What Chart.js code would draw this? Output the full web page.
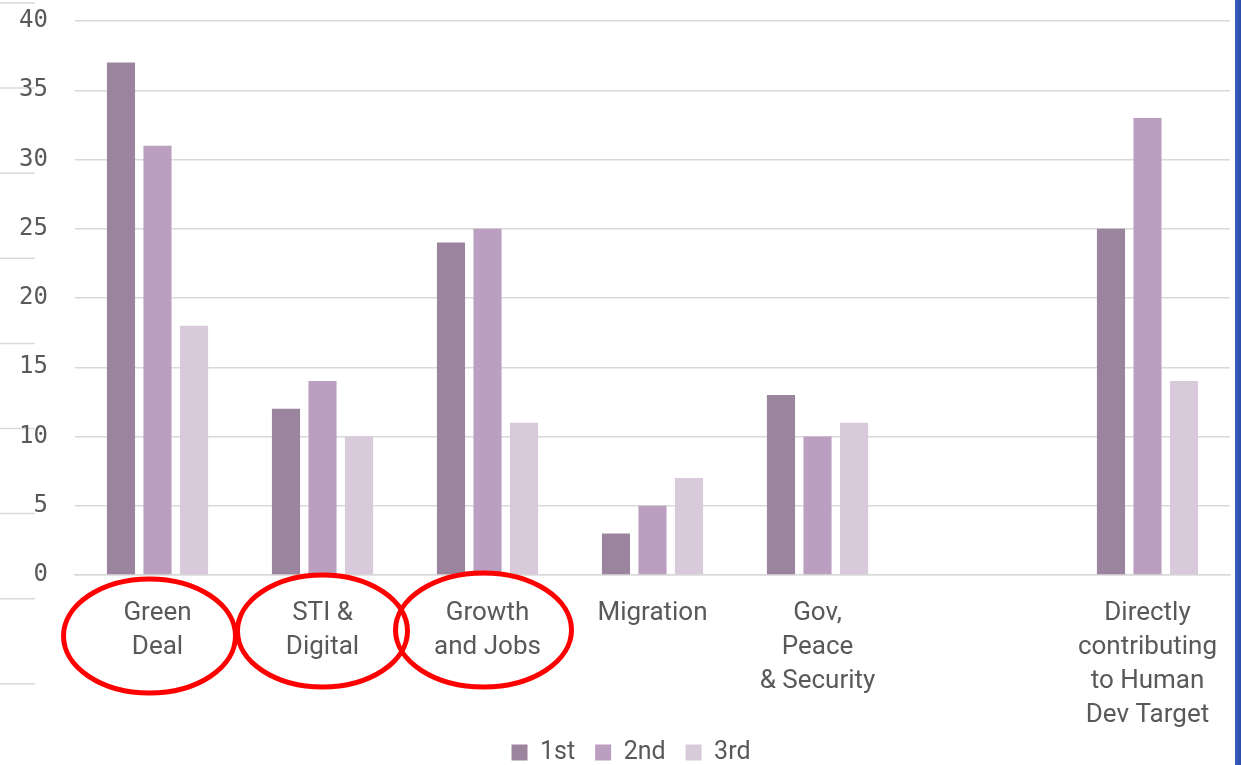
<!DOCTYPE html>
<html>
<head>
<meta charset="utf-8">
<script src="https://cdn.jsdelivr.net/npm/chart.js@4"></script>
<style>
html,body{margin:0;padding:0;background:#fff;}
#wrap{width:1241px;height:765px;position:relative;}
</style>
</head>
<body>
<div id="wrap"><canvas id="c" width="1241" height="765"></canvas></div>
<script>
const categories = [
  ["Green", "Deal"],
  ["STI &", "Digital"],
  ["Growth", "and Jobs"],
  ["Migration"],
  ["Gov,", "Peace", "& Security"],
  [""],
  ["Directly", "contributing", "to Human", "Dev Target"]
];
const seriesNames = ["1st", "2nd", "3rd"];
const first  = [37, 12, 24, 3, 13, null, 25];
const second = [31, 14, 25, 5, 10, null, 33];
const third  = [18, 10, 11, 7, 11, null, 14];
const yTicks = [0, 5, 10, 15, 20, 25, 30, 35, 40];
const circled = [0, 1, 2];

const colors = ["#9b849d", "#ba9fc0", "#d8cadb"];
const FONT = "Roboto, 'Noto Sans', sans-serif";
const NUMFONT = "'DejaVu Sans Mono', monospace";

const decor = {
  id: 'decor',
  afterLayout(chart) {
    const L = chart.legend;
    if (L) {
      const dy = -15, dx = 16;
      L.top += dy; L.bottom += dy;
      L.left += dx; L.right += dx;
    }
  },
  beforeDraw(chart) {
    const ctx = chart.ctx;
    ctx.save();
    ctx.fillStyle = '#fff';
    ctx.fillRect(0, 0, chart.width, chart.height);
    ctx.strokeStyle = '#d9d9d9';
    ctx.lineWidth = 1.5;
    for (let k = 0; k < 9; k++) {
      const y = 3 + k * 85.1;
      ctx.beginPath(); ctx.moveTo(0, y); ctx.lineTo(35, y); ctx.stroke();
    }
    const g = ctx.createLinearGradient(1235, 0, 1241, 0);
    g.addColorStop(0, '#3a5fbf'); g.addColorStop(1, '#2a4cab');
    ctx.fillStyle = g;
    ctx.fillRect(1235, 0, 6, chart.height);
    ctx.restore();
  },
  afterDraw(chart) {
    const ctx = chart.ctx;
    const x = chart.scales.x;
    const bottom = chart.chartArea.bottom;
    const offs = [[-8, 61, 86, 57], [0, 56, 85, 56], [-4, 55, 88, 57]];
    ctx.save();
    ctx.strokeStyle = '#ff0000';
    ctx.lineWidth = 5;
    circled.forEach((i, k) => {
      const cx = x.getPixelForValue(i) + offs[k][0];
      const cy = bottom + offs[k][1];
      ctx.beginPath();
      ctx.ellipse(cx, cy, offs[k][2], offs[k][3], 0, 0, Math.PI * 2);
      ctx.stroke();
    });
    ctx.restore();
  }
};

new Chart(document.getElementById('c'), {
  type: 'bar',
  data: {
    labels: categories,
    datasets: [
      { label: seriesNames[0], data: first, backgroundColor: colors[0] },
      { label: seriesNames[1], data: second, backgroundColor: colors[1] },
      { label: seriesNames[2], data: third, backgroundColor: colors[2] }
    ]
  },
  options: {
    responsive: false,
    animation: false,
    devicePixelRatio: 1,
    datasets: { bar: { categoryPercentage: 0.664, barPercentage: 0.77 } },
    layout: { padding: { top: 21, right: 11, left: 0, bottom: -25 } },
    plugins: {
      legend: {
        position: 'bottom',
        labels: {
          boxWidth: 16, boxHeight: 16, padding: 20,
          color: '#595959',
          font: { family: FONT, size: 25 }
        }
      },
      tooltip: { enabled: false }
    },
    scales: {
      x: {
        afterFit(s) { s.height = 160; },
        grid: { display: false, drawTicks: false },
        border: { display: true, color: '#d9d9d9', width: 1.5 },
        ticks: {
          color: '#595959', padding: 21, maxRotation: 0, autoSkip: false,
          font: { family: FONT, size: 26, lineHeight: 1.31 }
        }
      },
      y: {
        min: 0, max: 40,
        afterFit(s) { s.width = 75; },
        afterBuildTicks(s) { s.ticks = yTicks.map(v => ({ value: v })); },
        grid: { color: '#d9d9d9', lineWidth: 1.5, drawTicks: true, tickLength: 24, tickColor: 'rgba(0,0,0,0)' },
        border: { display: false },
        ticks: {
          color: '#595959', padding: 3,
          font: { family: NUMFONT, size: 24 }
        }
      }
    }
  },
  plugins: [decor]
});
</script>
</body>
</html>
